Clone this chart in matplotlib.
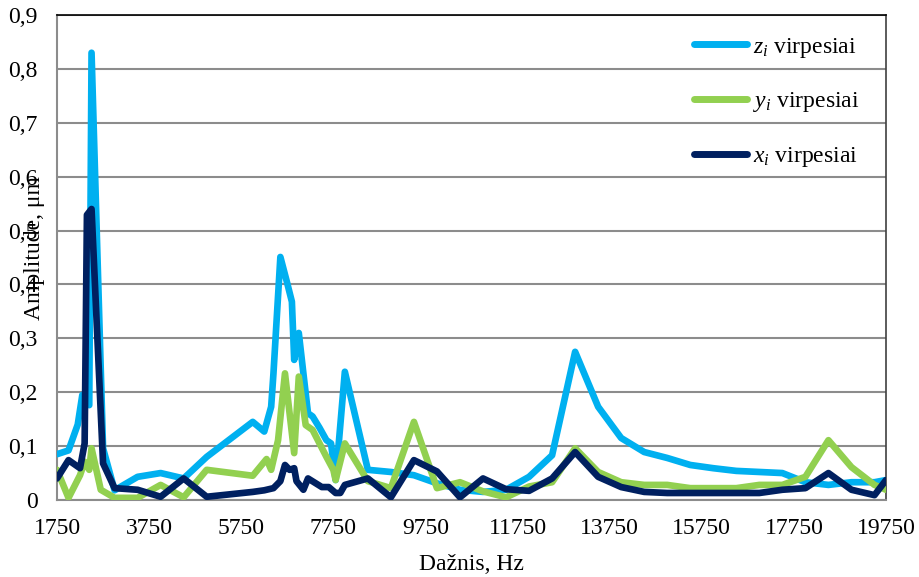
import numpy as np
import matplotlib
matplotlib.use('Agg')
import matplotlib.pyplot as plt

plt.rcParams['font.family'] = ['Liberation Serif', 'DejaVu Serif']
plt.rcParams['mathtext.fontset'] = 'custom'
plt.rcParams['mathtext.rm'] = 'Liberation Serif'
plt.rcParams['mathtext.it'] = 'Liberation Serif:italic'

# z_i virpesiai (light blue)
z_freq = [1750, 2000, 2200, 2300, 2450, 2500, 2750, 3000, 3500, 4000, 4500, 5000,
          6000, 6250, 6400, 6450, 6600, 6750, 6850, 6900, 7000, 7100, 7200, 7300,
          7450, 7600, 7700, 7800, 8000,
          8500, 9000, 9500, 10000, 10500, 11000, 11500, 12000, 12500, 13000, 13500,
          14000, 14500, 15000, 15500, 16000, 16500, 17000, 17500, 18000, 18500,
          19000, 19500, 19750]
z_amp = [0.085, 0.092, 0.14, 0.195, 0.176, 0.83, 0.096, 0.018, 0.043, 0.05, 0.04, 0.08,
         0.145, 0.127, 0.173, 0.235, 0.451, 0.402, 0.368, 0.26, 0.31, 0.235, 0.161, 0.155,
         0.134, 0.111, 0.105, 0.037, 0.238,
         0.056, 0.052, 0.046, 0.031, 0.019, 0.015, 0.019, 0.043, 0.083, 0.275, 0.173,
         0.115, 0.089, 0.078, 0.065, 0.059, 0.054, 0.052, 0.05, 0.033, 0.028,
         0.033, 0.033, 0.037]

# y_i virpesiai (green)
y_freq = [1750, 2000, 2250, 2350, 2450, 2500, 2700, 3000, 3500, 4000, 4500, 5000,
          6000, 6300, 6400, 6550, 6700, 6900, 7000, 7150, 7300, 7450, 7600, 7750,
          7800, 8000,
          8500, 9000, 9500, 10000, 10500, 11000, 11500, 12000, 12500, 13000, 13500,
          14000, 14500, 15000, 15500, 16000, 16500, 17000, 17500, 18000, 18500,
          19000, 19500, 19750]
y_amp = [0.056, 0.004, 0.046, 0.071, 0.056, 0.096, 0.019, 0.004, 0.004, 0.028, 0.005, 0.056,
         0.045, 0.076, 0.056, 0.111, 0.235, 0.087, 0.229, 0.139, 0.13, 0.105, 0.08, 0.056,
         0.037, 0.105,
         0.035, 0.022, 0.145, 0.022, 0.033, 0.016, 0.005, 0.025, 0.033, 0.096, 0.052,
         0.033, 0.028, 0.028, 0.022, 0.022, 0.022, 0.028, 0.028, 0.043, 0.111,
         0.061, 0.028, 0.019]

# x_i virpesiai (navy)
x_freq = [1750, 2000, 2250, 2350, 2400, 2500, 2750, 3000, 3500, 4000, 4500, 5000,
          6000, 6250, 6450, 6600, 6700, 6800, 6900, 6950, 7100, 7200, 7350, 7500,
          7650, 7800, 7900, 8000,
          8500, 9000, 9500, 10000, 10500, 11000, 11500, 12000, 12500, 13000, 13500,
          14000, 14500, 15000, 15500, 16000, 16500, 17000, 17500, 18000, 18500,
          19000, 19500, 19750]
x_amp = [0.04, 0.074, 0.059, 0.105, 0.529, 0.54, 0.068, 0.022, 0.019, 0.006, 0.04, 0.006,
         0.015, 0.018, 0.022, 0.035, 0.065, 0.056, 0.059, 0.035, 0.019, 0.04, 0.032, 0.024,
         0.024, 0.013, 0.013, 0.028,
         0.04, 0.005, 0.074, 0.053, 0.005, 0.04, 0.02, 0.017, 0.04, 0.089, 0.043,
         0.024, 0.015, 0.013, 0.013, 0.013, 0.013, 0.013, 0.019, 0.022, 0.05,
         0.019, 0.009, 0.037]

xticks = list(range(1750, 19751, 2000))
yticks = [0.0, 0.1, 0.2, 0.3, 0.4, 0.5, 0.6, 0.7, 0.8, 0.9]
ytick_labels = ['0', '0,1', '0,2', '0,3', '0,4', '0,5', '0,6', '0,7', '0,8', '0,9']

c_z = '#00B0F0'
c_y = '#92D050'
c_x = '#002060'
grid_c = '#8c8c8c'
fs = 17

fig = plt.figure(figsize=(9.19, 5.77), dpi=100)
ax = fig.add_axes([57/919, 1-500/577, (886-57)/919, (500-15)/577])

lw = 4.8
ax.plot(z_freq, z_amp, color=c_z, lw=lw, solid_capstyle='round', solid_joinstyle='round',
        zorder=3, label=r'$z_i$ virpesiai')
ax.plot(y_freq, y_amp, color=c_y, lw=lw, solid_capstyle='round', solid_joinstyle='round',
        zorder=4, label=r'$y_i$ virpesiai')
ax.plot(x_freq, x_amp, color=c_x, lw=lw, solid_capstyle='round', solid_joinstyle='round',
        zorder=5, label=r'$x_i$ virpesiai')

ax.set_xlim(1750, 19750)
ax.set_ylim(0, 0.9)
ax.set_xticks(xticks)
ax.set_xticklabels([str(t) for t in xticks])
ax.set_yticks(yticks)
ax.set_yticklabels(ytick_labels)
ax.tick_params(axis='both', length=0, labelsize=fs)
ax.tick_params(axis='y', pad=14)
ax.tick_params(axis='x', pad=13)

ax.yaxis.grid(True, color=grid_c, lw=1.5)
ax.set_axisbelow(True)
ax.spines['left'].set_color(grid_c)
ax.spines['left'].set_linewidth(1.5)
ax.spines['bottom'].set_color(grid_c)
ax.spines['bottom'].set_linewidth(1.5)
ax.spines['top'].set_color('black')
ax.spines['top'].set_linewidth(1.2)
ax.spines['right'].set_color('#404040')
ax.spines['right'].set_linewidth(1.2)

ax.set_xlabel('Dažnis, Hz', fontsize=fs, labelpad=11)
fig.text(0.037, 0.57, 'Amplitude, μm', rotation=90, fontsize=fs,
         ha='center', va='center')

leg = ax.legend(loc='upper left', bbox_to_anchor=(0.732, 0.975),
                bbox_transform=fig.transFigure, frameon=False, fontsize=fs,
                handlelength=2.25, handletextpad=0.25, labelspacing=1.3)
for h in leg.get_lines():
    h.set_linewidth(5)
    h.set_solid_capstyle('round')

fig.savefig('out.png', dpi=100)
